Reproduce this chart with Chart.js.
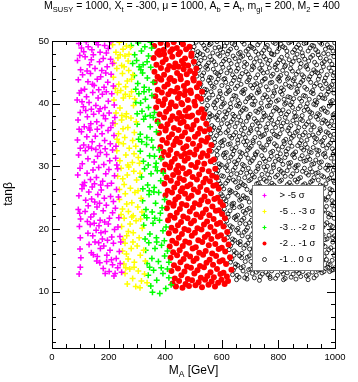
<!DOCTYPE html>
<html>
<head>
<meta charset="utf-8">
<script src="https://cdn.jsdelivr.net/npm/chart.js@4.4.0/dist/chart.umd.min.js"></script>
<style>
  body { margin: 0; background: #fff; }
  canvas { display: block; }
</style>
</head>
<body>
<canvas id="scanChart" width="358" height="382"></canvas>
<script>
// axis ticks and legend text
const xTicks = [0, 200, 400, 600, 800, 1000];
const yTicks = [10, 20, 30, 40, 50];
const legendLabels = ['> -5 \u03c3', '-5 .. -3 \u03c3', '-3 .. -2 \u03c3', '-2 .. -1 \u03c3', '-1 .. 0 \u03c3'];

// scan points [M_A, tan beta]
const ptsBelow5 = [
  [95,49.6],[112,48.3],[128,49.1],[141,48.6],[157,49.8],[170,48.2],[186,49.3],[199,48.8],[208,49.9],[121,49.9],[104,48.9],[163,49.4],[192,48.1],
  [90,46.9],[101,45.4],[117,47.5],[133,46.2],[146,47.8],[152,45.6],[168,46.7],[181,47.2],[195,45.9],[207,47.1],[214,46.4],[124,45.2],[176,45.3],[139,47.0],[98,47.7],
  [93,43.8],[108,44.6],[115,42.3],[127,43.5],[136,44.8],[149,42.9],[160,43.9],[172,44.3],[184,42.6],[197,43.4],[209,44.7],[217,42.8],[103,42.1],[165,42.2],[190,44.9],[143,43.1],
  [89,40.6],[97,41.7],[111,39.5],[122,41.1],[131,40.2],[144,41.8],[155,39.7],[163,40.9],[178,41.5],[187,39.4],[199,40.4],[211,41.6],[220,39.8],[106,40.3],[170,39.2],[139,39.1],[192,41.9],
  [92,37.4],[100,38.6],[114,36.3],[125,37.9],[137,36.8],[147,38.3],[158,37.1],[166,38.8],[175,36.5],[189,37.6],[202,38.5],[215,36.9],[222,37.8],[119,38.9],[182,38.1],[131,36.1],[208,36.2],
  [90,34.2],[104,35.5],[112,33.4],[123,34.7],[134,35.8],[142,33.9],[153,34.8],[168,33.3],[177,35.2],[186,34.1],[198,35.7],[206,33.6],[219,34.9],[226,33.2],[96,35.9],[160,35.9],[129,33.1],
  [94,31.8],[107,30.4],[118,32.5],[127,31.2],[140,32.9],[149,30.7],[161,31.6],[171,32.2],[183,30.3],[193,31.9],[204,30.9],[214,32.6],[225,31.3],[229,30.2],[100,32.9],[155,32.7],[188,32.8],
  [91,28.6],[99,29.7],[115,27.4],[124,28.9],[136,27.9],[145,29.4],[157,28.2],[165,29.8],[179,27.6],[190,28.8],[201,29.5],[210,27.3],[221,28.5],[232,29.6],[108,27.1],[172,27.0],[150,27.2],
  [95,25.3],[106,26.4],[119,24.6],[130,25.9],[142,26.7],[151,24.3],[162,25.5],[174,26.2],[185,24.9],[196,26.9],[207,25.2],[217,24.4],[228,26.3],[235,25.1],[113,26.9],[168,24.1],[140,24.8],
  [93,23.1],[101,21.6],[117,22.8],[128,23.7],[137,21.9],[148,22.4],[159,23.5],[170,21.4],[181,22.9],[192,23.8],[203,21.7],[214,22.6],[224,23.3],[236,21.8],[125,21.2],[186,21.1],[98,22.5],
  [97,20.4],[100,18.6],[127,19.3],[135,20.7],[144,18.9],[156,19.8],[166,20.5],[178,18.4],[188,19.6],[199,20.8],[211,18.7],[221,19.9],[233,20.3],[240,18.8],[149,20.9],[196,18.2],[173,19.4],
  [99,16.8],[102,15.4],[131,17.5],[139,16.2],[152,17.9],[160,15.6],[171,16.9],[183,17.3],[194,15.8],[205,16.6],[217,17.7],[227,15.3],[238,16.4],[243,17.9],[165,17.8],[210,15.1],[146,15.9],
  [100,13.9],[96,12.8],[169,14.6],[181,13.7],[193,14.8],[202,13.2],[214,14.3],[223,12.9],[232,13.8],[241,14.5],[246,13.1],[188,12.9],[158,14.9],[219,12.5]
];

const ptsMinus5to3 = [
  [214,49.4],[226,48.2],[238,49.8],[251,48.7],[263,49.2],[272,47.9],[219,46.5],[233,47.3],[246,46.1],[258,47.6],[269,46.8],[277,49.0],[241,47.8],
  [217,44.2],[229,45.6],[236,43.1],[249,44.8],[260,42.7],[271,45.3],[281,43.9],[224,42.4],[255,45.9],[286,44.6],[243,42.1],[266,43.6],
  [219,40.6],[231,41.8],[240,39.3],[252,40.9],[263,38.4],[274,41.2],[288,39.7],[226,38.5],[247,38.1],[281,41.9],[292,40.8],[259,41.5],
  [223,36.8],[235,35.2],[246,37.4],[257,34.6],[268,36.2],[279,37.7],[291,35.4],[298,37.1],[230,34.3],[262,37.9],[285,34.1],[251,36.0],
  [229,32.5],[240,30.9],[252,33.6],[261,31.8],[273,32.9],[284,30.6],[296,33.2],[305,31.4],[236,33.8],[268,30.2],[290,32.0],[309,30.5],
  [232,28.4],[244,29.7],[255,27.1],[266,28.6],[277,26.5],[289,29.2],[299,27.8],[311,28.9],[238,26.3],[271,29.9],[304,26.1],[250,28.0],
  [238,24.7],[249,23.2],[259,25.6],[270,22.8],[282,24.2],[293,25.8],[303,23.5],[315,24.9],[244,22.3],[287,22.1],[318,22.7],[264,24.0],
  [246,20.4],[255,21.7],[264,18.9],[276,20.8],[287,19.4],[297,21.3],[308,18.6],[319,20.1],[251,18.3],[282,21.9],[313,21.6],[270,19.6],
  [249,16.5],[258,17.7],[269,15.2],[280,16.9],[291,14.7],[301,17.3],[312,15.8],[324,16.6],[254,14.4],[286,17.9],[330,14.9],[263,16.0],
  [258,12.9],[266,11.2],[275,13.6],[285,12.1],[296,10.8],[305,13.3],[316,11.7],[327,12.8],[336,11.4],[290,13.9],[261,13.8],[311,10.6]
];

const ptsMinus3to2 = [
  [280,49.3],[292,47.8],[305,49.7],[316,48.4],[328,49.1],[341,47.6],[352,48.9],[285,46.4],[299,46.9],[322,46.2],[336,46.7],[348,49.8],
  [291,44.5],[303,43.2],[314,45.4],[326,42.6],[337,44.1],[349,45.8],[358,43.4],[296,42.3],[320,44.9],[343,42.2],[308,45.9],
  [296,40.2],[307,41.6],[318,38.8],[330,40.7],[341,39.4],[353,41.3],[362,38.6],[301,38.4],[325,41.9],[347,38.1],[313,40.1],
  [301,36.7],[312,35.1],[324,37.5],[335,34.6],[347,36.3],[358,37.8],[369,35.5],[306,34.3],[330,38.0],[352,34.2],[374,36.9],
  [312,32.4],[323,30.8],[334,33.5],[345,31.7],[357,33.0],[368,30.5],[379,32.6],[317,33.9],[340,30.2],[362,31.6],[385,31.2],
  [316,28.3],[327,29.6],[338,27.0],[350,28.8],[361,26.6],[372,29.3],[384,27.7],[393,28.9],[321,26.4],[344,26.1],[366,29.9],
  [320,24.5],[332,23.1],[343,25.5],[354,22.7],[366,24.1],[377,25.8],[389,23.4],[398,24.7],[326,22.2],[360,25.9],[383,22.5],
  [324,20.6],[335,21.8],[346,19.2],[357,20.9],[369,18.6],[380,21.4],[392,19.7],[403,20.3],[329,18.4],[363,21.7],[397,18.1],
  [331,16.6],[342,17.8],[353,15.3],[364,16.9],[376,14.8],[387,17.4],[398,15.7],[408,16.5],[336,14.5],[370,17.9],[413,14.7],
  [340,12.6],[349,10.9],[359,13.4],[370,11.8],[381,9.7],[392,12.9],[402,10.5],[413,12.2],[421,11.1],[355,9.9],[386,13.8],[345,13.9],[408,13.6]
];

const ptsMinus2to1 = [
  [361,49.2],[372,48.1],[384,49.7],[395,48.6],[407,49.4],[418,48.3],[430,49.8],[441,48.9],[452,48.2],[463,49.5],[474,48.7],[486,49.1],[493,48.0],[378,48.4],[425,48.7],[458,49.9],
  [359,47.3],[369,46.2],[380,47.8],[391,46.6],[402,47.1],[414,46.0],[425,47.5],[436,46.4],[447,47.9],[459,46.8],[470,47.2],[481,46.1],[492,47.6],[501,46.7],[396,47.9],[465,46.3],
  [362,45.1],[373,44.3],[385,45.7],[396,44.6],[408,45.4],[419,44.1],[431,45.8],[442,44.9],[453,44.4],[465,45.5],[476,44.7],[488,45.2],[499,44.0],[510,45.6],[380,44.0],[447,45.9],[505,44.8],
  [363,43.4],[374,42.2],[386,43.8],[397,42.7],[409,43.1],[420,42.0],[432,43.6],[443,42.5],[455,43.9],[466,42.8],[478,43.3],[489,42.1],[501,43.7],[512,42.6],[520,43.2],[415,43.9],[471,42.0],
  [365,41.2],[376,40.4],[388,41.8],[399,40.7],[411,41.5],[422,40.2],[434,41.9],[445,40.9],[457,40.1],[468,41.4],[480,40.6],[491,41.7],[503,40.3],[514,41.1],[526,40.8],[530,41.9],[393,40.0],[451,41.6],
  [368,39.4],[380,38.3],[391,39.8],[403,38.7],[414,39.2],[426,38.0],[437,39.6],[449,38.5],[460,39.9],[472,38.9],[483,39.3],[495,38.1],[506,39.7],[518,38.6],[529,39.1],[538,38.3],[420,39.9],[477,38.0],
  [373,37.2],[385,36.4],[396,37.8],[408,36.7],[419,37.4],[431,36.1],[442,37.6],[454,36.9],[465,37.1],[477,36.3],[488,37.9],[500,36.6],[511,37.3],[523,36.0],[534,37.7],[545,36.8],[402,36.0],[459,37.9],
  [378,35.3],[390,34.2],[401,35.7],[413,34.6],[424,35.1],[436,34.0],[447,35.8],[459,34.8],[470,35.4],[482,34.3],[493,35.9],[505,34.7],[516,35.2],[528,34.1],[539,35.6],[550,34.5],[556,35.9],[441,34.4],
  [383,33.1],[395,32.3],[406,33.7],[418,32.6],[429,33.4],[441,32.0],[452,33.8],[464,32.9],[475,33.2],[487,32.2],[498,33.6],[510,32.7],[521,33.3],[533,32.1],[544,33.9],[556,32.5],[563,33.4],[470,32.0],
  [388,31.4],[400,30.3],[411,31.8],[423,30.7],[434,31.2],[446,30.1],[457,31.6],[469,30.9],[480,31.3],[492,30.2],[503,31.9],[515,30.6],[526,31.5],[538,30.4],[549,31.7],[561,30.8],[572,31.1],[417,30.0],
  [393,29.3],[405,28.2],[416,29.8],[428,28.6],[439,29.4],[451,28.1],[462,29.7],[474,28.8],[485,29.1],[497,28.3],[508,29.9],[520,28.7],[531,29.5],[543,28.0],[554,29.2],[566,28.5],[577,29.6],[581,28.2],[446,29.0],
  [397,27.2],[409,26.1],[420,27.7],[432,26.6],[443,27.3],[455,26.0],[466,27.8],[478,26.8],[489,27.1],[501,26.3],[512,27.9],[524,26.7],[535,27.4],[547,26.2],[558,27.6],[570,26.9],[581,27.0],[589,26.4],[461,26.5],
  [401,25.4],[413,24.2],[424,25.8],[436,24.7],[447,25.1],[459,24.0],[470,25.6],[482,24.9],[493,25.3],[505,24.1],[516,25.9],[528,24.6],[539,25.2],[551,24.4],[562,25.7],[574,24.8],[585,25.0],[595,24.3],[430,24.0],
  [406,23.3],[418,22.1],[429,23.7],[441,22.6],[452,23.2],[464,22.0],[475,23.8],[487,22.8],[498,23.4],[510,22.3],[521,23.9],[533,22.5],[544,23.1],[556,22.2],[567,23.6],[579,22.9],[590,23.0],[601,22.4],[604,23.8],
  [410,21.4],[422,20.2],[433,21.8],[445,20.6],[456,21.1],[468,20.0],[479,21.7],[491,20.9],[502,21.3],[514,20.1],[525,21.9],[537,20.7],[548,21.2],[560,20.3],[571,21.6],[583,20.8],[594,21.0],[606,20.4],[611,21.7],
  [413,19.3],[425,18.1],[436,19.7],[448,18.6],[459,19.2],[471,18.0],[482,19.8],[494,18.9],[505,19.4],[517,18.2],[528,19.9],[540,18.7],[551,19.1],[563,18.4],[574,19.6],[586,18.8],[597,19.0],[609,18.3],[619,19.5],
  [416,17.2],[428,16.3],[439,17.7],[451,16.6],[462,17.3],[474,16.0],[485,17.8],[497,16.9],[508,17.1],[520,16.2],[531,17.9],[543,16.5],[554,17.4],[566,16.1],[577,17.6],[589,16.8],[600,17.0],[612,16.4],[624,17.5],
  [419,15.4],[431,14.2],[442,15.8],[454,14.7],[465,15.2],[477,14.0],[488,15.6],[500,14.9],[511,15.3],[523,14.1],[534,15.9],[546,14.6],[557,15.1],[569,14.3],[580,15.7],[592,14.8],[603,15.0],[615,14.4],[629,15.5],
  [422,13.3],[434,12.1],[445,13.7],[457,12.6],[468,13.2],[480,12.0],[491,13.8],[503,12.9],[514,13.4],[526,12.2],[537,13.9],[549,12.5],[560,13.1],[572,12.3],[583,13.6],[595,12.8],[606,13.0],[618,12.4],[634,13.5],
  [426,11.3],[438,10.8],[449,11.7],[461,10.6],[472,11.2],[484,10.9],[495,11.8],[507,11.0],[518,11.5],[530,10.7],[541,11.9],[553,11.1],[564,11.6],[576,10.8],[587,11.4],[599,11.9],[610,11.2],[622,11.7]
];

const ptsMinus1to0 = [
  [502,49.1],[516,48.3],[529,49.7],[541,48.8],[556,49.4],[568,48.1],[583,49.9],[595,48.6],[611,49.2],[624,48.4],[637,49.6],[652,48.9],[665,48.2],[679,49.5],[693,48.7],[706,49.0],[720,48.3],[733,49.8],[748,48.5],[761,49.3],[775,48.0],[789,49.6],[802,48.8],[816,49.1],[830,48.4],[843,49.9],[857,48.6],[871,49.4],[884,48.1],[898,49.7],[912,48.9],[925,49.2],[939,48.3],[953,49.5],[966,48.7],[980,49.0],[993,48.4],
  [508,47.2],[519,46.4],[533,47.8],[547,46.1],[558,47.5],[572,46.7],[586,47.9],[599,46.3],[613,47.1],[626,46.9],[640,47.6],[654,46.2],[667,47.4],[681,46.6],[694,47.8],[708,46.0],[722,47.2],[735,46.8],[749,47.5],[763,46.4],[777,47.9],[790,46.2],[804,47.0],[818,46.7],[831,47.7],[845,46.3],[859,47.3],[873,46.9],[886,47.6],[900,46.1],[914,47.4],[928,46.6],[941,47.8],[955,46.4],[969,47.1],[982,46.8],[996,47.5],
  [517,45.3],[530,44.5],[543,45.8],[557,44.2],[570,45.5],[584,44.8],[597,45.1],[611,44.0],[625,45.7],[638,44.6],[652,45.2],[665,44.3],[679,45.9],[693,44.7],[706,45.4],[720,44.1],[734,45.6],[747,44.9],[761,45.0],[775,44.4],[788,45.8],[802,44.2],[815,45.3],[829,44.8],[843,45.6],[856,44.0],[870,45.1],[884,44.6],[897,45.9],[911,44.3],[925,45.4],[938,44.9],[952,45.2],[966,44.1],[979,45.7],[994,44.5],
  [526,43.1],[539,42.3],[553,43.7],[566,42.8],[580,43.4],[593,42.0],[607,43.9],[621,42.6],[634,43.2],[648,42.4],[661,43.8],[675,42.1],[689,43.5],[702,42.9],[716,43.0],[730,42.2],[743,43.6],[757,42.7],[771,43.3],[784,42.0],[798,43.9],[811,42.5],[825,43.1],[839,42.8],[852,43.7],[866,42.3],[880,43.4],[893,42.6],[907,43.9],[921,42.1],[934,43.2],[948,42.9],[962,43.6],[975,42.4],[989,43.0],[997,42.2],
  [535,41.4],[548,40.6],[562,41.9],[575,40.2],[589,41.1],[602,40.8],[616,41.6],[630,40.0],[643,41.3],[657,40.5],[670,41.8],[684,40.3],[698,41.0],[711,40.9],[725,41.7],[739,40.1],[752,41.4],[766,40.6],[780,41.2],[793,40.4],[807,41.9],[820,40.7],[834,41.1],[848,40.2],[861,41.6],[875,40.8],[889,41.3],[902,40.0],[916,41.8],[930,40.5],[943,41.0],[957,40.9],[971,41.5],[984,40.3],[996,41.7],
  [544,39.2],[557,38.4],[571,39.8],[584,38.1],[598,39.5],[611,38.7],[625,39.0],[639,38.3],[652,39.7],[666,38.6],[679,39.3],[693,38.0],[707,39.9],[720,38.8],[734,39.1],[748,38.5],[761,39.6],[775,38.2],[789,39.4],[802,38.9],[816,39.0],[829,38.3],[843,39.8],[857,38.6],[870,39.2],[884,38.1],[898,39.5],[911,38.7],[925,39.9],[939,38.4],[952,39.1],[966,38.8],[980,39.6],[993,38.2],
  [552,37.3],[565,36.5],[579,37.8],[592,36.1],[606,37.5],[619,36.8],[633,37.1],[647,36.3],[660,37.9],[674,36.6],[687,37.2],[701,36.0],[715,37.6],[728,36.9],[742,37.4],[756,36.2],[769,37.7],[783,36.7],[797,37.0],[810,36.4],[824,37.8],[837,36.1],[851,37.3],[865,36.9],[878,37.5],[892,36.3],[906,37.1],[919,36.6],[933,37.9],[947,36.0],[960,37.4],[974,36.8],[988,37.2],[997,36.5],
  [561,35.2],[574,34.4],[588,35.7],[601,34.0],[615,35.4],[628,34.8],[642,35.0],[656,34.2],[669,35.8],[683,34.6],[696,35.3],[710,34.1],[724,35.9],[737,34.7],[751,35.1],[765,34.3],[778,35.6],[792,34.9],[806,35.2],[819,34.0],[833,35.7],[846,34.5],[860,35.4],[874,34.8],[887,35.0],[901,34.2],[915,35.8],[928,34.6],[942,35.3],[956,34.1],[969,35.5],[983,34.9],[996,35.1],
  [569,33.3],[582,32.5],[596,33.8],[609,32.1],[623,33.5],[636,32.8],[650,33.0],[664,32.3],[677,33.9],[691,32.6],[704,33.2],[718,32.0],[732,33.7],[745,32.9],[759,33.4],[773,32.2],[786,33.6],[800,32.7],[814,33.1],[827,32.4],[841,33.8],[854,32.0],[868,33.3],[882,32.9],[895,33.5],[909,32.3],[923,33.0],[936,32.6],[950,33.9],[964,32.1],[977,33.4],[991,32.8],
  [578,31.2],[591,30.4],[605,31.8],[618,30.1],[632,31.5],[645,30.7],[659,31.0],[673,30.3],[686,31.9],[700,30.6],[713,31.3],[727,30.0],[741,31.7],[754,30.8],[768,31.1],[782,30.2],[795,31.6],[809,30.9],[823,31.4],[836,30.5],[850,31.8],[863,30.1],[877,31.2],[891,30.8],[904,31.5],[918,30.3],[932,31.0],[945,30.6],[959,31.9],[973,30.2],[986,31.3],[997,30.7],
  [586,29.3],[599,28.5],[613,29.8],[626,28.1],[640,29.4],[653,28.8],[667,29.0],[681,28.2],[694,29.7],[708,28.6],[721,29.2],[735,28.0],[749,29.9],[762,28.7],[776,29.1],[790,28.3],[803,29.5],[817,28.9],[831,29.3],[844,28.4],[858,29.8],[871,28.0],[885,29.2],[899,28.9],[912,29.6],[926,28.2],[940,29.0],[953,28.5],[967,29.7],[981,28.1],[994,29.4],
  [594,27.2],[607,26.4],[621,27.7],[634,26.0],[648,27.5],[661,26.8],[675,27.1],[689,26.3],[702,27.9],[716,26.5],[729,27.3],[743,26.1],[757,27.6],[770,26.9],[784,27.0],[798,26.2],[811,27.8],[825,26.7],[839,27.4],[852,26.0],[866,27.5],[879,26.6],[893,27.2],[907,26.9],[920,27.7],[934,26.3],[948,27.0],[961,26.5],[975,27.9],[989,26.2],[998,27.4],
  [602,25.3],[615,24.5],[629,25.8],[642,24.1],[656,25.4],[669,24.8],[683,25.0],[697,24.3],[710,25.7],[724,24.6],[737,25.2],[751,24.0],[765,25.9],[778,24.7],[792,25.1],[806,24.2],[819,25.6],[833,24.9],[847,25.3],[860,24.4],[874,25.8],[887,24.0],[901,25.2],[915,24.8],[928,25.5],[942,24.3],[956,25.0],[969,24.6],[983,25.7],[996,24.2],
  [609,23.2],[622,22.4],[636,23.7],[649,22.0],[663,23.5],[676,22.8],[690,23.1],[704,22.3],[717,23.9],[731,22.6],[744,23.3],[758,22.1],[772,23.6],[785,22.9],[799,23.0],[813,22.2],[826,23.8],[840,22.7],[854,23.4],[867,22.0],[881,23.5],[894,22.6],[908,23.2],[922,22.9],[935,23.7],[949,22.3],[963,23.0],[976,22.5],[990,23.8],
  [617,21.3],[630,20.5],[644,21.8],[657,20.1],[671,21.4],[684,20.8],[698,21.0],[712,20.3],[725,21.7],[739,20.6],[752,21.2],[766,20.0],[780,21.9],[793,20.7],[807,21.1],[821,20.2],[834,21.6],[848,20.9],[862,21.3],[875,20.4],[889,21.8],[902,20.0],[916,21.2],[930,20.8],[943,21.5],[957,20.3],[971,21.0],[984,20.6],[997,21.7],
  [625,19.2],[638,18.4],[652,19.8],[665,18.0],[679,19.5],[692,18.7],[706,19.1],[720,18.3],[733,19.6],[747,18.9],[760,19.4],[774,18.1],[788,19.9],[801,18.6],[815,19.0],[829,18.2],[842,19.7],[856,18.8],[870,19.3],[883,18.5],[897,19.8],[910,18.0],[924,19.2],[938,18.9],[951,19.5],[965,18.3],[979,19.0],[992,18.6],
  [631,17.3],[644,16.5],[658,17.8],[671,16.1],[685,17.4],[698,16.8],[712,17.0],[726,16.2],[739,17.7],[753,16.6],[766,17.2],[780,16.0],[794,17.9],[807,16.7],[821,17.1],[835,16.3],[848,17.6],[862,16.9],[876,17.4],[889,16.4],[903,17.8],[916,16.0],[930,17.3],[944,16.9],[957,17.5],[971,16.2],[985,17.0],[997,16.6],
  [636,15.2],[649,14.4],[663,15.7],[676,14.0],[690,15.5],[703,14.8],[717,15.1],[731,14.3],[744,15.8],[758,14.6],[771,15.3],[785,14.1],[799,15.6],[812,14.9],[826,15.0],[840,14.2],[853,15.8],[867,14.7],[881,15.4],[894,14.5],[908,15.9],[921,14.1],[935,15.2],[949,14.8],[962,15.6],[976,14.4],[990,15.0],
  [641,13.4],[654,12.6],[668,13.8],[681,12.2],[695,13.5],[708,12.9],[722,13.1],[736,12.4],[749,13.7],[763,12.7],[776,13.3],[790,12.1],[804,13.9],[817,12.8],[831,13.0],[845,12.3],[858,13.6],[872,12.9],[886,13.2],[899,12.5],[913,13.8],[926,12.2],[940,13.4],[954,13.0],[967,13.7],[981,13.2],[994,13.5],
  [652,11.9],[689,12.0],[733,11.8],[771,12.1],[818,11.9],[862,12.0],[905,11.9],
  // second pass through the same region
  [498,48.5],[509,49.8],[523,48.0],[536,49.3],[549,48.5],[562,49.6],[576,48.9],[590,49.0],[604,48.2],[618,49.7],[631,48.7],[645,49.4],[659,48.0],[672,49.9],[686,48.4],[700,49.2],[713,48.8],[727,49.4],[741,48.1],[755,49.0],[768,48.6],[782,49.8],[796,48.3],[809,49.5],[823,48.9],[837,49.7],[850,48.2],[864,49.0],[878,48.8],[891,49.6],[905,48.4],[919,49.3],[932,48.6],[946,49.8],[960,48.0],[973,49.4],[987,48.9],[999,49.7],
  [504,46.3],[513,47.7],[526,46.9],[540,47.3],[553,46.5],[565,47.0],[579,46.2],[593,47.6],[606,46.8],[620,47.9],[633,46.4],[647,47.2],[661,46.8],[674,47.6],[688,46.3],[701,47.3],[715,46.6],[729,47.9],[742,46.2],[756,47.1],[770,46.9],[784,47.8],[797,46.5],[811,47.4],[825,46.1],[838,47.0],[852,46.7],[866,47.9],[880,46.4],[893,47.1],[907,46.8],[921,47.7],[935,46.2],[948,47.3],[962,46.7],[976,47.9],[989,46.3],
  [512,44.4],[523,45.9],[536,44.9],[550,45.5],[563,44.1],[577,45.0],[590,44.5],[604,45.8],[618,44.9],[631,45.3],[645,44.2],[658,45.6],[672,44.8],[686,45.1],[699,44.2],[713,45.8],[727,44.6],[740,45.3],[754,44.0],[768,45.7],[781,44.7],[795,45.4],[808,44.5],[822,45.9],[836,44.1],[849,45.2],[863,44.7],[877,45.8],[890,44.3],[904,45.5],[918,44.8],[931,45.1],[945,44.4],[959,45.9],[972,44.6],[986,45.2],[998,44.9],
  [522,42.7],[532,43.9],[546,42.2],[559,43.3],[573,42.6],[587,43.9],[600,42.9],[614,43.4],[628,42.1],[641,43.7],[655,42.8],[668,43.1],[682,42.3],[695,43.8],[709,42.5],[723,43.2],[736,42.9],[750,43.9],[764,42.2],[777,43.4],[791,42.7],[804,43.6],[818,42.2],[832,43.9],[845,42.6],[859,43.1],[873,42.9],[886,43.7],[900,42.3],[914,43.4],[927,42.8],[941,43.9],[955,42.4],[968,43.2],[982,42.7],[995,43.6],
  [530,40.3],[541,41.8],[555,40.9],[568,41.4],[582,40.5],[595,41.6],[609,40.1],[623,41.9],[636,40.7],[650,41.2],[663,40.0],[677,41.6],[691,40.8],[704,41.3],[718,40.4],[732,41.9],[745,40.9],[759,41.1],[773,40.2],[786,41.7],[800,40.6],[813,41.5],[827,40.1],[841,41.0],[854,40.8],[868,41.9],[882,40.4],[895,41.2],[909,40.7],[923,41.6],[936,40.2],[950,41.4],[964,40.8],[977,41.9],[991,40.5],
  [539,38.9],[550,39.7],[564,38.1],[577,39.3],[591,38.6],[604,39.9],[618,38.4],[632,39.4],[645,38.0],[659,39.6],[672,38.9],[686,39.1],[700,38.3],[713,39.8],[727,38.6],[741,39.3],[754,38.1],[768,39.7],[782,38.8],[795,39.2],[809,38.4],[822,39.9],[836,38.7],[850,39.4],[863,38.0],[877,39.6],[891,38.9],[904,39.1],[918,38.5],[932,39.8],[945,38.2],[959,39.3],[973,38.6],[986,39.9],[998,38.4],
  [547,36.6],[558,37.9],[572,36.2],[586,37.4],[599,36.8],[613,37.8],[626,36.4],[640,37.5],[654,36.9],[667,37.3],[681,36.1],[694,37.8],[708,36.6],[722,37.2],[735,36.4],[749,37.9],[763,36.8],[776,37.4],[790,36.2],[803,37.6],[817,36.9],[831,37.1],[844,36.5],[858,37.9],[872,36.2],[885,37.3],[899,36.7],[913,37.8],[926,36.3],[940,37.5],[954,36.9],[967,37.2],[981,36.4],[994,37.8],
  [556,34.6],[567,35.8],[581,34.9],[595,35.3],[608,34.2],[622,35.7],[635,34.5],[649,35.4],[662,34.8],[676,35.1],[690,34.0],[703,35.7],[717,34.6],[731,35.3],[744,34.9],[758,35.8],[772,34.4],[785,35.1],[799,34.7],[813,35.9],[826,34.3],[840,35.2],[853,34.8],[867,35.6],[881,34.1],[894,35.4],[908,34.9],[922,35.0],[935,34.4],[949,35.7],[963,34.6],[976,35.3],[990,34.2],
  [564,32.4],[575,33.8],[589,32.9],[603,33.3],[616,32.2],[630,33.6],[643,32.5],[657,33.7],[671,32.1],[684,33.4],[698,32.9],[711,33.8],[725,32.3],[739,33.1],[752,32.6],[766,33.9],[780,32.4],[793,33.3],[807,32.0],[821,33.6],[834,32.8],[848,33.2],[861,32.3],[875,33.7],[889,32.6],[902,33.0],[916,32.2],[930,33.8],[943,32.5],[957,33.3],[971,32.9],[984,33.7],[997,32.4],
  [573,30.6],[584,31.8],[598,30.2],[611,31.4],[625,30.8],[639,31.9],[652,30.4],[666,31.5],[679,30.1],[693,31.3],[707,30.9],[720,31.8],[734,30.5],[748,31.2],[761,30.0],[775,31.6],[789,30.8],[802,31.1],[816,30.3],[829,31.9],[843,30.6],[857,31.4],[870,30.2],[884,31.7],[898,30.9],[911,31.1],[925,30.4],[939,31.8],[952,30.7],[966,31.5],[980,30.1],[993,31.9],
  [581,28.9],[592,29.9],[606,28.4],[620,29.3],[633,28.7],[647,29.8],[660,28.1],[674,29.5],[688,28.9],[701,29.1],[715,28.3],[728,29.6],[742,28.7],[756,29.4],[769,28.1],[783,29.8],[797,28.6],[810,29.2],[824,28.4],[838,29.9],[851,28.8],[865,29.3],[878,28.2],[892,29.7],[906,28.6],[919,29.1],[933,28.9],[947,29.8],[960,28.3],[974,29.4],[988,28.7],[998,29.9],
  [589,27.7],[600,26.8],[614,27.3],[628,26.2],[641,27.8],[655,26.6],[668,27.4],[682,26.9],[696,27.7],[709,26.1],[723,27.2],[737,26.8],[750,27.9],[764,26.4],[777,27.3],[791,26.7],[805,27.6],[818,26.2],[832,27.1],[846,26.9],[859,27.8],[873,26.3],[887,27.0],[900,26.6],[914,27.5],[927,26.1],[941,27.8],[955,26.8],[968,27.2],[982,26.4],[995,27.7],
  [597,25.6],[608,24.8],[622,25.2],[636,24.0],[649,25.7],[663,24.6],[676,25.3],[690,24.9],[704,25.8],[717,24.2],[731,25.1],[745,24.7],[758,25.6],[772,24.3],[785,25.4],[799,24.8],[813,25.9],[826,24.1],[840,25.0],[854,24.6],[867,25.7],[881,24.4],[895,25.2],[908,24.9],[922,25.8],[935,24.2],[949,25.5],[963,24.8],[976,25.1],[990,24.5],
  [604,22.6],[615,23.9],[629,22.9],[643,23.4],[656,22.2],[670,23.7],[683,22.5],[697,23.3],[711,22.9],[724,23.8],[738,22.1],[752,23.2],[765,22.7],[779,23.9],[793,22.4],[806,23.5],[820,22.8],[833,23.1],[847,22.2],[861,23.7],[874,22.9],[888,23.3],[902,22.5],[915,23.9],[929,22.1],[943,23.4],[956,22.7],[970,23.6],[983,22.3],[996,23.1],
  [612,20.6],[623,21.9],[637,20.3],[651,21.5],[664,20.9],[678,21.7],[691,20.2],[705,21.4],[719,20.8],[732,21.1],[746,20.4],[760,21.8],[773,20.6],[787,21.3],[800,20.1],[814,21.7],[828,20.8],[841,21.2],[855,20.5],[869,21.9],[882,20.2],[896,21.4],[910,20.9],[923,21.6],[937,20.1],[950,21.3],[964,20.7],[978,21.9],[991,20.4],
  [620,18.6],[631,19.7],[645,18.2],[659,19.4],[672,18.9],[686,19.8],[699,18.3],[713,19.5],[727,18.7],[740,19.2],[754,18.4],[768,19.9],[781,18.6],[795,19.3],[808,18.1],[822,19.6],[836,18.9],[849,19.2],[863,18.3],[877,19.8],[890,18.7],[904,19.4],[918,18.2],[931,19.7],[945,18.8],[958,19.1],[972,18.4],[986,19.8],[998,18.9],
  [626,16.7],[637,17.8],[651,16.2],[665,17.5],[678,16.9],[692,17.7],[706,16.3],[719,17.4],[733,16.8],[747,17.1],[760,16.4],[774,17.9],[787,16.6],[801,17.3],[815,16.1],[828,17.6],[842,16.8],[856,17.2],[869,16.5],[883,17.8],[896,16.3],[910,17.4],[924,16.8],[937,17.7],[951,16.1],[965,17.2],[978,16.7],[992,17.9],
  [631,14.7],[643,15.8],[656,14.2],[670,15.4],[683,14.8],[697,15.7],[711,14.3],[724,15.5],[738,14.9],[751,15.2],[765,14.4],[779,15.9],[792,14.6],[806,15.3],[820,14.1],[833,15.7],[847,14.8],[861,15.2],[874,14.4],[888,15.8],[901,14.6],[915,15.4],[929,14.2],[942,15.7],[956,14.9],[970,15.1],[983,14.3],[997,15.8],
  [638,12.7],[647,13.9],[661,12.3],[675,13.3],[688,12.7],[702,13.6],[715,12.2],[729,13.4],[743,12.8],[756,13.1],[770,12.4],[783,13.9],[797,12.6],[811,13.2],[824,12.1],[838,13.7],[852,12.8],[865,13.3],[879,12.4],[893,13.8],[906,12.7],[920,13.1],[934,12.6],[947,13.5],[961,13.2],[974,13.9],[988,13.4],[999,13.8]
];

const FONT = '"Liberation Sans", Arial, Helvetica, sans-serif';

const toXY = pts => pts.map(([x, y]) => ({ x, y }));

const seriesStyles = [
  { data: ptsBelow5, pointStyle: 'cross', pointRadius: 3, borderColor: '#ff00ff', backgroundColor: '#ff00ff', pointBorderWidth: 1.5 },
  { data: ptsMinus5to3, pointStyle: 'cross', pointRadius: 3, borderColor: '#ffff00', backgroundColor: '#ffff00', pointBorderWidth: 1.5 },
  { data: ptsMinus3to2, pointStyle: 'cross', pointRadius: 3, borderColor: '#00ff00', backgroundColor: '#00ff00', pointBorderWidth: 1.5 },
  { data: ptsMinus2to1, pointStyle: 'circle', pointRadius: 3, borderColor: '#ff0000', backgroundColor: '#ff0000', pointBorderWidth: 0 },
  { data: ptsMinus1to0, pointStyle: 'circle', pointRadius: 2, borderColor: '#000000', backgroundColor: 'rgba(0,0,0,0)', pointBorderWidth: 0.8 }
];

// small marker for the legend box
function drawMarker(ctx, s, cx, cy) {
  ctx.save();
  ctx.strokeStyle = s.borderColor;
  ctx.fillStyle = s.backgroundColor;
  if (s.pointStyle === 'cross') {
    ctx.lineWidth = 1.2;
    ctx.beginPath();
    ctx.moveTo(cx - 2, cy); ctx.lineTo(cx + 2, cy);
    ctx.moveTo(cx, cy - 2); ctx.lineTo(cx, cy + 2);
    ctx.stroke();
  } else {
    ctx.lineWidth = s.pointBorderWidth || 0.8;
    ctx.beginPath();
    ctx.arc(cx, cy, 2, 0, Math.PI * 2);
    if (s.pointBorderWidth === 0) ctx.fill(); else ctx.stroke();
  }
  ctx.restore();
}

// text with subscripts, centred on cx
function drawRich(ctx, parts, cx, baseY, size, subSize, drop) {
  ctx.save();
  ctx.textAlign = 'left';
  ctx.textBaseline = 'alphabetic';
  let w = 0;
  parts.forEach(([t, sub]) => {
    ctx.font = (sub ? subSize : size) + 'px ' + FONT;
    w += ctx.measureText(t).width;
  });
  let px = cx - w / 2;
  parts.forEach(([t, sub]) => {
    ctx.font = (sub ? subSize : size) + 'px ' + FONT;
    ctx.fillText(t, px, baseY + (sub ? drop : 0));
    px += ctx.measureText(t).width;
  });
  ctx.restore();
}

const framePlugin = {
  id: 'framePlugin',
  afterDatasetsDraw(chart) {
    const { ctx, chartArea: a, scales: { x, y } } = chart;
    ctx.save();

    // legend box inside the plot
    const lx = 252.5, ly = 185.5, lw = 71, lh = 85;
    ctx.fillStyle = '#fff';
    ctx.fillRect(lx, ly, lw, lh);
    ctx.strokeStyle = '#777';
    ctx.lineWidth = 1;
    ctx.strokeRect(lx, ly, lw, lh);
    ctx.font = '9.5px ' + FONT;
    ctx.textAlign = 'left';
    ctx.textBaseline = 'middle';
    legendLabels.forEach((t, i) => {
      const ry = ly + 10 + i * 16;
      drawMarker(ctx, seriesStyles[i], lx + 12, ry);
      ctx.fillStyle = '#000';
      ctx.fillText(t, lx + 27, ry);
    });

    // frame and inward ticks on all sides
    ctx.strokeStyle = '#000';
    ctx.lineWidth = 1;
    ctx.beginPath();
    for (let v = 50; v < 1000; v += 50) {
      const px = Math.round(x.getPixelForValue(v)) + 0.5;
      const len = v % 200 === 0 ? 8 : 4;
      ctx.moveTo(px, a.bottom); ctx.lineTo(px, a.bottom - len);
      ctx.moveTo(px, a.top); ctx.lineTo(px, a.top + len);
    }
    for (let v = 2; v < 50; v += 2) {
      const py = Math.round(y.getPixelForValue(v)) + 0.5;
      const len = v % 10 === 0 ? 8 : 4;
      ctx.moveTo(a.left, py); ctx.lineTo(a.left + len, py);
      ctx.moveTo(a.right, py); ctx.lineTo(a.right - len, py);
    }
    ctx.stroke();
    ctx.strokeRect(Math.round(a.left) + 0.5, Math.round(a.top) + 0.5,
      Math.round(a.right - a.left), Math.round(a.bottom - a.top));

    // tick labels
    ctx.fillStyle = '#000';
    ctx.font = '9.5px ' + FONT;
    ctx.textAlign = 'center';
    ctx.textBaseline = 'middle';
    xTicks.forEach(v => ctx.fillText(String(v), x.getPixelForValue(v), a.bottom + 9));
    ctx.textAlign = 'right';
    yTicks.forEach(v => ctx.fillText(String(v), a.left - 3, y.getPixelForValue(v)));

    // axis titles
    drawRich(ctx, [['M', 0], ['A', 1], [' [GeV]', 0]], (a.left + a.right) / 2, 374, 12, 8.5, 3);
    ctx.save();
    ctx.translate(12, 194);
    ctx.rotate(-Math.PI / 2);
    ctx.font = '12px ' + FONT;
    ctx.textAlign = 'center';
    ctx.textBaseline = 'alphabetic';
    ctx.fillText('tan\u03b2', 0, 0);
    ctx.restore();

    // title line with subscripts
    drawRich(ctx, [['M', 0], ['SUSY', 1], [' = 1000, X', 0], ['t', 1], [' = -300, \u03bc = 1000, A', 0], ['b', 1],
      [' = A', 0], ['t', 1], [', m', 0], ['gl', 1], [' = 200, M', 0], ['2', 1], [' = 400', 0]], 192, 9, 10.5, 7.5, 2.5);

    ctx.restore();
  }
};

new Chart(document.getElementById('scanChart').getContext('2d'), {
  type: 'scatter',
  data: {
    datasets: seriesStyles.map((s, i) => ({
      label: legendLabels[i],
      data: toXY(s.data),
      pointStyle: s.pointStyle,
      pointRadius: s.pointRadius,
      pointBorderWidth: s.pointBorderWidth,
      pointBorderColor: s.borderColor,
      pointBackgroundColor: s.backgroundColor,
      showLine: false
    }))
  },
  options: {
    responsive: false,
    animation: false,
    layout: { padding: { left: 52, right: 23, top: 41, bottom: 34 } },
    scales: {
      x: { type: 'linear', min: 0, max: 1000, display: false },
      y: { type: 'linear', min: 1, max: 50, display: false }
    },
    plugins: {
      legend: { display: false },
      tooltip: { enabled: false }
    }
  },
  plugins: [framePlugin]
});
</script>
</body>
</html>
